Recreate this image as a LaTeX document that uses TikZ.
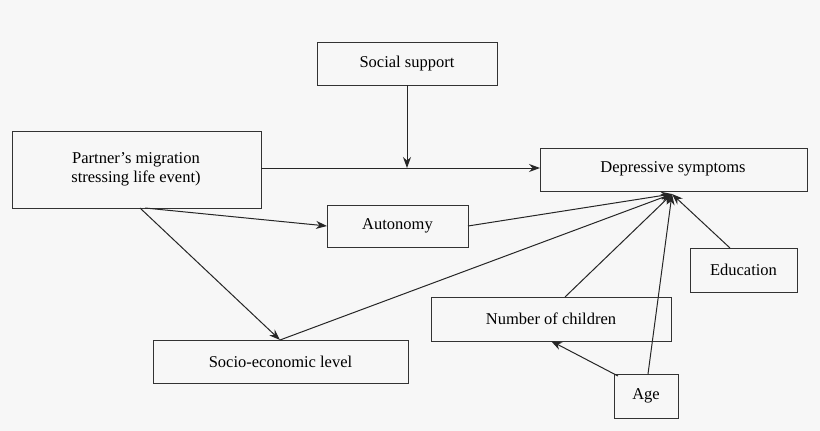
\documentclass[tikz,border=0pt]{standalone}
\usepackage{fontspec}
\setmainfont{Liberation Serif}
\usetikzlibrary{arrows.meta}
\begin{document}
\begin{tikzpicture}[x=1pt,y=-1pt,
  bx/.style={draw=black!80,line width=1pt,fill=white!97!black},
  lb/.style={font=\fontsize{16.5}{19}\selectfont,align=center},
  ar/.style={draw=black!85,line width=1pt,-{Stealth[length=11pt,width=8pt]}}]
\fill[black!3] (0,0) rectangle (820,431);
\useasboundingbox (0,0) rectangle (820,431);
\draw[bx] (317,42) rectangle (497,85); \node[lb] (ss) at (407,63.5) {Social support};
\draw[bx] (12,131) rectangle (261,208); \node[lb] (pm) at (136,169.5) {Partner’s migration\\stressing life event)};
\draw[bx] (540,148) rectangle (807,191); \node[lb] (ds) at (673,169) {Depressive symptoms};
\draw[bx] (327,205) rectangle (468,247); \node[lb] (au) at (397.5,226) {Autonomy};
\draw[bx] (690,248) rectangle (797,292); \node[lb] (ed) at (743.5,270) {Education};
\draw[bx] (431,297) rectangle (671,341); \node[lb] (nc) at (551,319) {Number of children};
\draw[bx] (153,340) rectangle (408,383); \node[lb] (se) at (280.5,361.5) {Socio-economic level};
\draw[bx] (614,374) rectangle (678,418); \node[lb] (ag) at (646,396) {Age};
\coordinate (t) at (672,194);
\coordinate (pr) at (261,168);
\coordinate (dl) at (540,168);
\coordinate (sj) at (407,168);
\draw[ar] (pr) -- (dl);
\draw[ar] (407,85) -- (sj);
\draw[ar] (140,208) -- (280,340);
\draw[ar] (145,208) -- (327,226);
\draw[ar] (468,226) -- (t);
\draw[ar] (280,340) -- (t);
\draw[ar] (565,297) -- (t);
\draw[ar] (648,374) -- (t);
\draw[ar] (730,248) -- (t);
\draw[ar] (618,376) -- (551,341);
\end{tikzpicture}
\end{document}
